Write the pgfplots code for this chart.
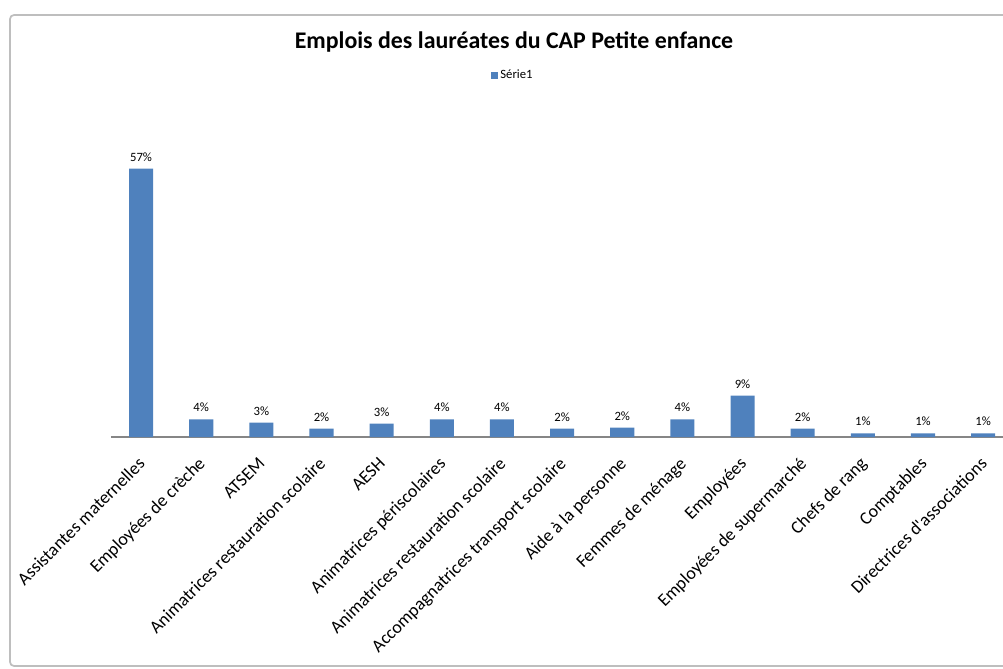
\documentclass[border=0pt]{standalone}
\usepackage{fontspec}
\setmainfont{Carlito}
\usepackage{pgfplots}
\pgfplotsset{compat=1.18}
\definecolor{barblue}{HTML}{4F81BD}
\definecolor{framegray}{HTML}{BEBEBE}
\definecolor{axisgray}{HTML}{868686}
\begin{document}
\begin{tikzpicture}
\useasboundingbox (0pt,0pt) rectangle (752.25pt,501pt);
\draw[framegray, line width=1.3pt, rounded corners=3pt]
  (770pt,489.75pt) -- (7.5pt,489.75pt) -- (7.5pt,1.5pt) -- (770pt,1.5pt);
\begin{axis}[
  at={(83.25pt,173.25pt)}, anchor=south west,
  scale only axis, width=669pt, height=211.95pt,
  xmin=-0.5, xmax=14.33, ymin=0, ymax=60,
  axis x line*=bottom, axis y line=none,
  x axis line style={axisgray, line width=0.9pt, -},
  xtick={0,...,14}, major tick length=0pt,
  xticklabels={Assistantes maternelles, Employées de crèche, ATSEM,
    Animatrices restauration scolaire, AESH, Animatrices périscolaires,
    Animatrices restauration scolaire, Accompagnatrices transport scolaire,
    Aide à la personne, Femmes de ménage, Employées, Employées de supermarché,
    Chefs de rang, Comptables, Directrices d\textquotesingle associations},
  xticklabel style={xshift=-3pt, yshift=-14pt, rotate=45, anchor=north east,
    inner sep=0pt, font=\fontsize{13.5}{14}\selectfont},
  ybar, bar width=0.4,
  /pgf/number format/assume math mode=true,
  nodes near coords={\pgfmathprintnumber[fixed,precision=0]{\pgfplotspointmeta}\%},
  every node near coord/.append style={font=\fontsize{9.5}{10}\selectfont, anchor=south, yshift=2pt},
  title={\textbf{Emplois des lauréates du CAP Petite enfance}},
  title style={at={(0.4518,1.401)}, anchor=center, yshift=-7pt, font=\fontsize{17.9}{19}\selectfont},
  legend style={at={(0.4507,1.279)}, anchor=center, draw=none, fill=none,
    font=\fontsize{9.5}{10}\selectfont, inner sep=0pt},
  legend image code/.code={\fill[barblue] (0pt,-2.6pt) rectangle (5.2pt,2.6pt);},
  clip=false,
]
\addplot[fill=barblue, draw=none] coordinates {
  (0,57.0) (1,3.76) (2,3.06) (3,1.78) (4,2.85) (5,3.76) (6,3.76) (7,1.78)
  (8,2.0) (9,3.76) (10,8.79) (11,1.78) (12,0.79) (13,0.79) (14,0.79)
};
\addlegendentry{Série1}
\end{axis}
\end{tikzpicture}
\end{document}
